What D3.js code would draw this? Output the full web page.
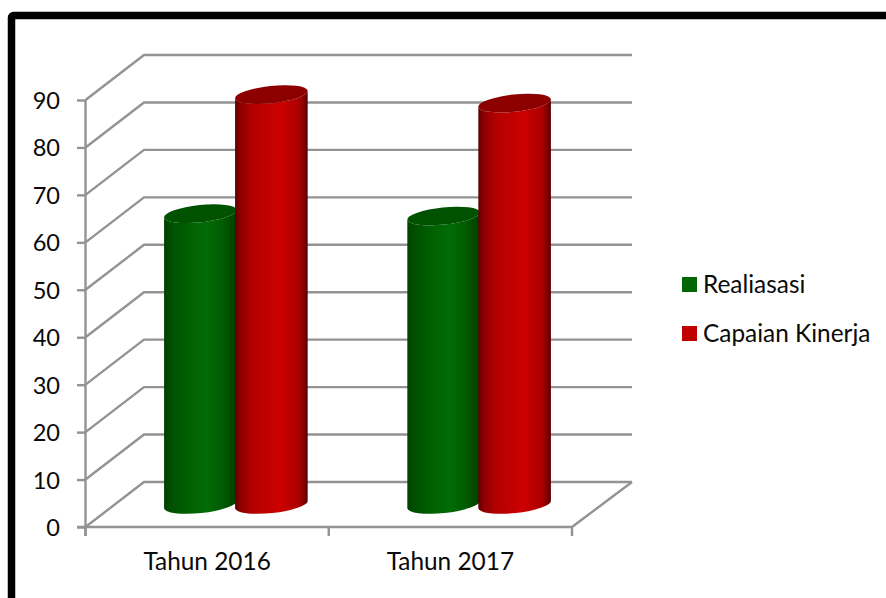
<!DOCTYPE html>
<html><head><meta charset="utf-8">
<script src="https://cdn.jsdelivr.net/npm/d3@7"></script>
<style>
html,body{margin:0;padding:0;background:#fff;overflow:hidden}
text{font-family:Lato,"Open Sans",sans-serif;fill:#0a0a0a}
</style></head><body>
<svg id="c" width="886" height="598"></svg>
<script>
const categories = ["Tahun 2016", "Tahun 2017"];
const seriesNames = ["Realiasasi", "Capaian Kinerja"];
const realiasasi = [61.3, 60.8];
const capaianKinerja = [86.4, 84.6];
const yTicks = [0,10,20,30,40,50,60,70,80,90];
const seriesValues = [realiasasi, capaianKinerja];

const svg = d3.select("#c");
const fontSize = 24.4;
const dx = 58.5, dxRight = 60, dy = -45;
const y = d3.scaleLinear().domain([0,90]).range([527,100]);
const x = d3.scaleBand().domain(categories).range([85.5,572]).paddingInner(0).paddingOuter(0);
const s = d3.scaleBand().domain(seriesNames).range([-71,71]);

// frame
svg.append("rect").attr("x",11.5).attr("y",15.5).attr("width",900).attr("height",700)
  .attr("rx",2).attr("fill","#fff").attr("stroke","#000").attr("stroke-width",7.5);

const defs = svg.append("defs");
const ramps = [
  {id:"g0", stops:[["0%","#004000"],["8%","#004e00"],["30%","#005e02"],["58%","#036c06"],["82%","#005a00"],["100%","#003c00"]]},
  {id:"g1", stops:[["0%","#5c0000"],["7%","#8c0000"],["25%","#b40000"],["62%","#cc0000"],["88%","#ac0000"],["100%","#5c0000"]]}
];
ramps.forEach(r=>{
  const g=defs.append("linearGradient").attr("id",r.id).attr("x1","0").attr("x2","1").attr("y1","0").attr("y2","0");
  r.stops.forEach(t=>g.append("stop").attr("offset",t[0]).attr("stop-color",t[1]));
});
const topColors=["#005200","#8c0000"];
const legendColors=["#036606","#c00000"];
const grid="#939393";
const gw=2.4;

// gridlines, side wall and floor
const wall = svg.append("g").attr("fill","none").attr("stroke",grid).attr("stroke-width",gw);
yTicks.forEach(v=>{
  wall.append("path").attr("d",d3.line()([[85.5,y(v)],[85.5+dx,y(v)+dy],[572+dxRight,y(v)+dy]]));
});
wall.append("line").attr("x1",85.5).attr("x2",85.5).attr("y1",y(90)).attr("y2",536);
wall.append("path").attr("d",d3.line()([[572,527],[572+dxRight,527+dy]]));

// axes
const axY = svg.append("g").attr("transform","translate(85.5,0)")
  .call(d3.axisLeft(y).tickValues(yTicks).tickSize(8.5).tickPadding(17));
axY.select(".domain").remove();
axY.selectAll("line").attr("stroke",grid).attr("stroke-width",gw);
axY.selectAll("text").attr("font-size",23.6).attr("dy","0.36em");

const axX = svg.append("g").attr("transform","translate(0,527)")
  .call(d3.axisBottom(x).tickSize(0).tickPadding(26));
axX.select(".domain").remove();
axX.selectAll("text").attr("font-size",fontSize).attr("dy","0.71em");
const edge = [85.5, x(categories[1]), 572];
svg.append("g").selectAll("line").data(edge).join("line")
  .attr("x1",d=>d).attr("x2",d=>d).attr("y1",527).attr("y2",536).attr("stroke",grid).attr("stroke-width",gw);
svg.append("line").attr("x1",77).attr("x2",572).attr("y1",527).attr("y2",527).attr("stroke",grid).attr("stroke-width",gw);

// cylinders
const rx=36.5, ry=8.6, tilt=-6, rad=tilt*Math.PI/180;
const ox=rx*Math.cos(rad), oy=rx*Math.sin(rad);
const base=y(0)+dy/2;
const yv=v=>y(v)+dy/2;
categories.forEach((c,i)=>{
  const cc=x(c)+x.bandwidth()/2+dx/2;
  seriesNames.forEach((n,j)=>{
    const cx=cc+s(n)+s.bandwidth()/2-0.5;
    const top=yv(seriesValues[j][i]);
    const body=`M${cx-ox},${top-oy} L${cx-ox},${base-oy} A${rx},${ry} ${tilt} 0 0 ${cx+ox},${base+oy} L${cx+ox},${top+oy} A${rx},${ry} ${tilt} 0 1 ${cx-ox},${top-oy} Z`;
    svg.append("path").attr("d",body).attr("fill",`url(#g${j})`);
    svg.append("ellipse").attr("cx",0).attr("cy",0).attr("rx",rx).attr("ry",ry)
      .attr("transform",`translate(${cx},${top}) rotate(${tilt})`).attr("fill",topColors[j]);
  });
});

// legend
const ly=[284.5,333.5];
seriesNames.forEach((n,j)=>{
  svg.append("rect").attr("x",682).attr("y",ly[j]-7.5).attr("width",15).attr("height",15).attr("fill",legendColors[j]);
  svg.append("text").attr("x",703).attr("y",ly[j]).attr("dy","0.36em").attr("font-size",fontSize).text(n);
});
</script>
</body></html>
